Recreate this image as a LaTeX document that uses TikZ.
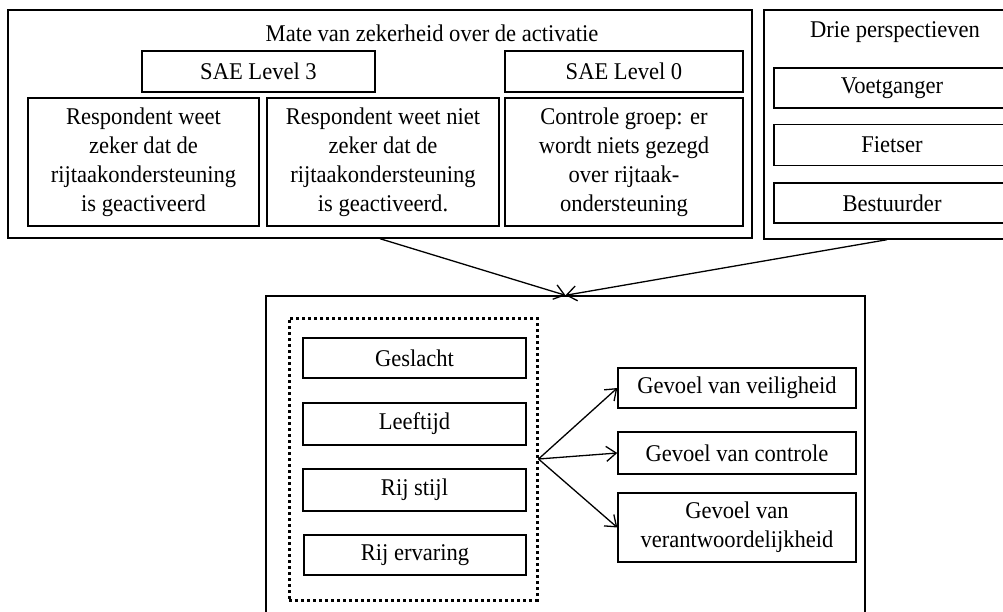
\documentclass[tikz,border=0pt]{standalone}
\usepackage{fontspec}
\setmainfont[FakeStretch=0.94]{Liberation Serif}
\usetikzlibrary{arrows.meta,positioning}

\begin{document}
\begin{tikzpicture}[x=1pt,y=-1pt,
  every node/.style={font=\fontsize{24}{29}\selectfont},
  box/.style={draw,line width=1.4pt,inner sep=0pt,align=center},
  dotbox/.style={draw,line width=3pt,dash pattern=on 3pt off 3pt,inner sep=0pt},
  conn/.style={line width=1.3pt,-{Straight Barb[length=10pt,width=15pt]}}]
  \useasboundingbox (0,0) rectangle (1003,612);
  % mate van zekerheid
  \node[box,minimum width=744pt,minimum height=228pt] (zekerheid) at (380,124) {};
  \node (zektitel) at (432,33) {Mate van zekerheid over de activatie};
  \node[box,minimum width=233pt,minimum height=41pt] (sae3) at (258.5,71.5) {SAE Level 3};
  \node[box,minimum width=238pt,minimum height=41pt] (sae0) at (624,71.5) {SAE Level 0};
  \node[box,minimum width=231pt,minimum height=128pt] (weet) at (143.5,162)
    {Respondent weet\\zeker dat de\\rijtaakondersteuning\\is geactiveerd};
  \node[box,minimum width=232pt,minimum height=128pt] (weetniet) at (383,162)
    {Respondent weet niet\\zeker dat de\\rijtaakondersteuning\\is geactiveerd.};
  \node[box,minimum width=238pt,minimum height=128pt] (controlegroep) at (624,162)
    {Controle groep: er\\wordt niets gezegd\\over rijtaak-\\ondersteuning};
  % drie perspectieven
  \node[box,minimum width=246pt,minimum height=229pt] (perspectief) at (887,124.5) {};
  \node (perstitel) at (895,32) {Drie perspectieven};
  \node[box,minimum width=236pt,minimum height=40pt] (voetganger) at (892,88) {Voetganger};
  \node[box,minimum width=236pt,minimum height=41pt] (fietser) at (892,145) {Fietser};
  \node[box,minimum width=236pt,minimum height=40pt] (bestuurder) at (892,203) {Bestuurder};
  % model
  \node[box,minimum width=599pt,minimum height=334pt] (model) at (565.5,463) {};
  \node[dotbox,minimum width=248pt,minimum height=282pt] (achtergrond) at (413,459) {};
  \node[box,minimum width=223pt,minimum height=40pt] (geslacht) at (414.5,358) {Geslacht};
  \node[box,minimum width=223pt,minimum height=42pt] (leeftijd) at (414.5,424) {Leeftijd};
  \node[box,minimum width=223pt,minimum height=42pt] (rijstijl) at (414.5,490) {Rij stijl};
  \node[box,minimum width=222pt,minimum height=40pt] (ervaring) at (415,555) {Rij ervaring};
  \node[box,minimum width=238pt,minimum height=40pt] (veiligheid) at (737,388) {Gevoel van veiligheid};
  \node[box,minimum width=238pt,minimum height=42pt] (controle) at (737,453) {Gevoel van controle};
  \node[box,minimum width=238pt,minimum height=69pt] (verantwoordelijkheid) at (737,527.5)
    {Gevoel van\\verantwoordelijkheid};
  % pijlen
  \draw[conn] (zekerheid.south) -- (model.north);
  \draw[conn] (perspectief.south) -- (model.north);
  \draw[conn] (achtergrond.east) -- (veiligheid.west);
  \draw[conn] (achtergrond.east) -- (controle.west);
  \draw[conn] (achtergrond.east) -- (verantwoordelijkheid.west);
\end{tikzpicture}
\end{document}
